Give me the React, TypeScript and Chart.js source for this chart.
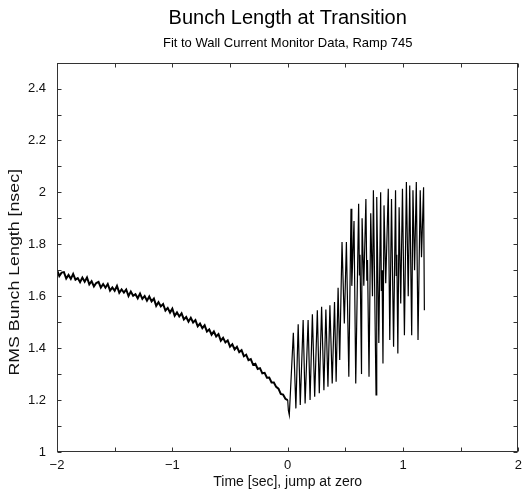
import React, { useEffect, useRef } from "react";
import { Chart, registerables } from "chart.js";

Chart.register(...registerables);

const FONT = '"Liberation Sans", Arial, Helvetica, sans-serif';

const titleText = "Bunch Length at Transition";
const subtitleText = "Fit to Wall Current Monitor Data, Ramp 745";
const xTitle = "Time [sec], jump at zero";
const yTitle = "RMS Bunch Length [nsec]";

const xMin = -2;
const xMax = 2;
const xStep = 0.5;
const yMin = 1;
const yMax = 2.5;
const yStep = 0.1;
const xLabelTicks = [-2, -1, 0, 1, 2];
const yLabelTicks = [1, 1.2, 1.4, 1.6, 1.8, 2, 2.2, 2.4];

// Before transition: samples every 0.02 s starting at -2 s
const preStart = -2;
const preStep = 0.02;
const preValues = [
  1.702, 1.678, 1.691, 1.693, 1.668, 1.682, 1.667, 1.686, 1.664, 1.670,
  1.654, 1.672, 1.656, 1.672, 1.646, 1.658, 1.638, 1.651, 1.655, 1.633,
  1.647, 1.633, 1.647, 1.622, 1.634, 1.621, 1.640, 1.613, 1.626, 1.614,
  1.626, 1.601, 1.618, 1.602, 1.608, 1.592, 1.610, 1.590, 1.601, 1.583,
  1.599, 1.580, 1.591, 1.563, 1.577, 1.561, 1.570, 1.545, 1.555, 1.537,
  1.552, 1.525, 1.538, 1.522, 1.534, 1.511, 1.520, 1.502, 1.517, 1.499,
  1.508, 1.484, 1.495, 1.477, 1.488, 1.464, 1.472, 1.452, 1.464, 1.445,
  1.454, 1.429, 1.440, 1.422, 1.430, 1.406, 1.415, 1.395, 1.405, 1.385,
  1.392, 1.369, 1.375, 1.354, 1.358, 1.336, 1.340, 1.320, 1.323, 1.303,
  1.305, 1.286, 1.287, 1.268, 1.268, 1.251, 1.244, 1.224, 1.221, 1.205,
  1.200,
];

// After transition: oscillation turning points
const postTimes = [
  0.006, 0.014, 0.049, 0.071, 0.091, 0.109, 0.134, 0.151, 0.177, 0.194,
  0.214, 0.234, 0.257, 0.274, 0.294, 0.314, 0.331, 0.349, 0.366, 0.386,
  0.406, 0.420, 0.437, 0.451, 0.471, 0.491, 0.509, 0.530, 0.549, 0.556,
  0.562, 0.575, 0.590, 0.615, 0.622, 0.627, 0.640, 0.645, 0.660, 0.678,
  0.686, 0.692, 0.705, 0.720, 0.735, 0.743, 0.766, 0.772, 0.790, 0.806,
  0.812, 0.818, 0.826, 0.835, 0.850, 0.872, 0.885, 0.900, 0.918, 0.935,
  0.941, 0.946, 0.955, 0.966, 0.980, 0.995, 1.012, 1.029, 1.045, 1.058,
  1.075, 1.086, 1.100, 1.115, 1.130, 1.149, 1.160, 1.178, 1.185,
];
const postValues = [
  1.160, 1.142, 1.459, 1.168, 1.492, 1.181, 1.508, 1.187, 1.508, 1.200,
  1.531, 1.213, 1.546, 1.226, 1.559, 1.238, 1.549, 1.251, 1.565, 1.264,
  1.578, 1.271, 1.633, 1.354, 1.809, 1.495, 1.809, 1.290, 1.937, 1.640,
  1.720, 1.890, 1.264, 1.956, 1.680, 1.760, 1.300, 1.900, 1.640, 1.975,
  1.660, 1.740, 1.290, 1.920, 1.600, 2.008, 1.220, 1.982, 1.420, 2.001,
  1.620, 1.700, 1.341, 1.950, 1.650, 2.014, 1.431, 1.975, 1.405, 2.008,
  1.680, 1.760, 1.379, 1.943, 1.572, 2.014, 1.450, 2.040, 1.600, 2.027,
  1.450, 2.008, 1.700, 2.040, 1.431, 2.008, 1.750, 2.020, 1.546,
];

const fmtNum = (v: number) => {
  const s = String(Number(v.toFixed(2)));
  return v < 0 ? "\u2212" + s.slice(1) : s;
};

const frameTicks = {
  id: "frameTicks",
  afterDraw(chart: any) {
    const { ctx, chartArea, scales } = chart;
    const x = scales.x;
    const y = scales.y;
    const L = Math.round(chartArea.left) + 0.5;
    const R = Math.round(chartArea.right) - 0.5;
    const T = Math.round(chartArea.top) + 0.5;
    const B = Math.round(chartArea.bottom) - 0.5;
    const len = 4;
    ctx.save();
    ctx.strokeStyle = "#333";
    ctx.lineWidth = 1;
    ctx.strokeRect(L, T, R - L, B - T);
    ctx.beginPath();
    x.ticks.forEach((t: any) => {
      const px = Math.round(x.getPixelForValue(t.value)) + 0.5;
      ctx.moveTo(px, B);
      ctx.lineTo(px, B - len);
      ctx.moveTo(px, T);
      ctx.lineTo(px, T + len);
    });
    y.ticks.forEach((t: any) => {
      const py = Math.round(y.getPixelForValue(t.value)) + 0.5;
      ctx.moveTo(L, py);
      ctx.lineTo(L + len, py);
      ctx.moveTo(R, py);
      ctx.lineTo(R - len, py);
    });
    ctx.stroke();

    // vertical axis title (stretched along its length like the original)
    ctx.fillStyle = "#111";
    ctx.font = `14px ${FONT}`;
    ctx.textAlign = "center";
    ctx.textBaseline = "middle";
    ctx.translate(15, (chartArea.top + chartArea.bottom) / 2 + 15);
    ctx.rotate(-Math.PI / 2);
    ctx.scale(1.27, 1);
    ctx.fillText(yTitle, 0, 0);
    ctx.restore();
  },
};

export default function App() {
  const ref = useRef<HTMLCanvasElement | null>(null);

  useEffect(() => {
    if (!ref.current) return;
    const pts: { x: number; y: number }[] = [];
    preValues.forEach((v, i) => pts.push({ x: preStart + i * preStep, y: v }));
    postTimes.forEach((t, i) => pts.push({ x: t, y: postValues[i] }));

    const chart = new Chart(ref.current, {
      type: "line",
      data: {
        datasets: [
          {
            data: pts,
            borderColor: "#000",
            borderWidth: 1.2,
            pointRadius: 0,
            tension: 0,
            fill: false,
            segment: {
              borderWidth: (c: any) => (c.p1.parsed.x <= 0 ? 2 : 1.2),
            },
          },
        ],
      },
      options: {
        responsive: false,
        animation: false,
        layout: { padding: { left: 0, right: 5, top: 0, bottom: 0 } },
        plugins: {
          legend: { display: false },
          tooltip: { enabled: false },
          title: {
            display: true,
            fullSize: false,
            text: titleText,
            color: "#000",
            font: { family: FONT, size: 20, weight: "normal" },
            padding: { top: 6, bottom: 3 },
          },
          subtitle: {
            display: true,
            fullSize: false,
            text: subtitleText,
            color: "#000",
            font: { family: FONT, size: 13, weight: "normal" },
            padding: { top: 3, bottom: 11 },
          },
        },
        scales: {
          x: {
            type: "linear",
            min: xMin,
            max: xMax,
            grid: { display: false, drawTicks: false },
            border: { display: false },
            afterFit: (s: any) => {
              s.height = 41;
            },
            ticks: {
              stepSize: xStep,
              autoSkip: false,
              maxRotation: 0,
              padding: 6,
              color: "#111",
              font: { family: FONT, size: 13 },
              callback: (v: any) => {
                const n = Number(v);
                return xLabelTicks.some((t) => Math.abs(t - n) < 1e-6) ? fmtNum(n) : "";
              },
            },
            title: {
              display: true,
              text: xTitle,
              color: "#111",
              font: { family: FONT, size: 14 },
              padding: { top: 0, bottom: 2 },
            },
          },
          y: {
            type: "linear",
            min: yMin,
            max: yMax,
            grid: { display: false, drawTicks: false },
            border: { display: false },
            afterFit: (s: any) => {
              s.width = 57;
            },
            ticks: {
              stepSize: yStep,
              autoSkip: false,
              padding: 11,
              color: "#111",
              font: { family: FONT, size: 13 },
              callback: (v: any) => {
                const n = Number(v);
                return yLabelTicks.some((t) => Math.abs(t - n) < 1e-6) ? fmtNum(n) : "";
              },
            },
            title: { display: false },
          },
        },
      },
      plugins: [frameTicks],
    });
    return () => chart.destroy();
  }, []);

  return (
    <div style={{ position: "fixed", left: 0, top: 0, width: 528, height: 493, background: "#fff" }}>
      <canvas ref={ref} width={528} height={493} />
    </div>
  );
}
